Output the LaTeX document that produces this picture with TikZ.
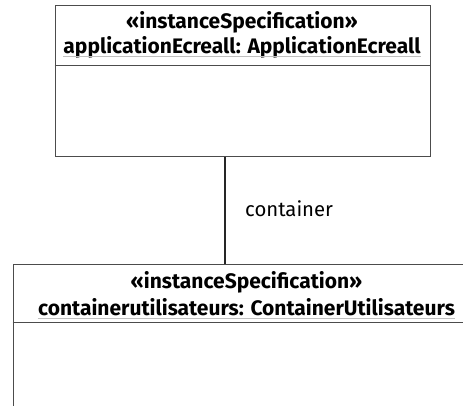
\documentclass[tikz,border=0pt]{standalone}
\usepackage{fontspec}
\setmainfont{Fira Sans}
\begin{document}
\begin{tikzpicture}[x=1pt,y=-1pt,
  box/.style={draw=black!70, line width=1.3pt, fill=white, rectangle, inner sep=0pt, anchor=north west},
  sep/.style={draw=black!70, line width=1.3pt},
  hdr/.style={font=\fontsize{21pt}{24pt}\selectfont\bfseries, inner sep=0pt, text=black},
  lbl/.style={font=\fontsize{20.3pt}{23pt}\selectfont, inner sep=0pt, anchor=west},
  conn/.style={draw=black!85, line width=1.1pt},
  uline/.style={draw=black!25, line width=0.7pt}
]
\clip (0,0) rectangle (463,405);
\fill[white] (0,0) rectangle (463,405);
% top instance
\node[box, minimum width=375.5pt, minimum height=151pt] (a) at (54.5,4.5) {};
\coordinate (asep) at (54.5,65.5);
\draw[sep] (asep) -- (asep -| a.east);
\node[hdr] (a1) at (242,22) {«instanceSpecification»};
\node[hdr] (a2) at (242,47) {applicationEcreall: ApplicationEcreall};
\draw[uline] ([yshift=-3pt]a2.base west) -- ([yshift=-3pt]a2.base east);
% bottom instance
\node[box, minimum width=470pt, minimum height=200pt] (b) at (12.7,264) {};
\coordinate (bsep) at (12.7,322.5);
\draw[sep] (bsep) -- (bsep -| b.east);
\node[hdr] (b1) at (246.5,282) {«instanceSpecification»};
\node[hdr] (b2) at (246.5,307) {containerutilisateurs: ContainerUtilisateurs};
\draw[uline] ([yshift=-3pt]b2.base west) -- ([yshift=-3pt]b2.base east);
% connector
\coordinate (cx) at (225,0);
\draw[conn] (a.south -| cx) -- (b.north -| cx);
\node[lbl] (l) at (245,209) {container};
\end{tikzpicture}
\end{document}
